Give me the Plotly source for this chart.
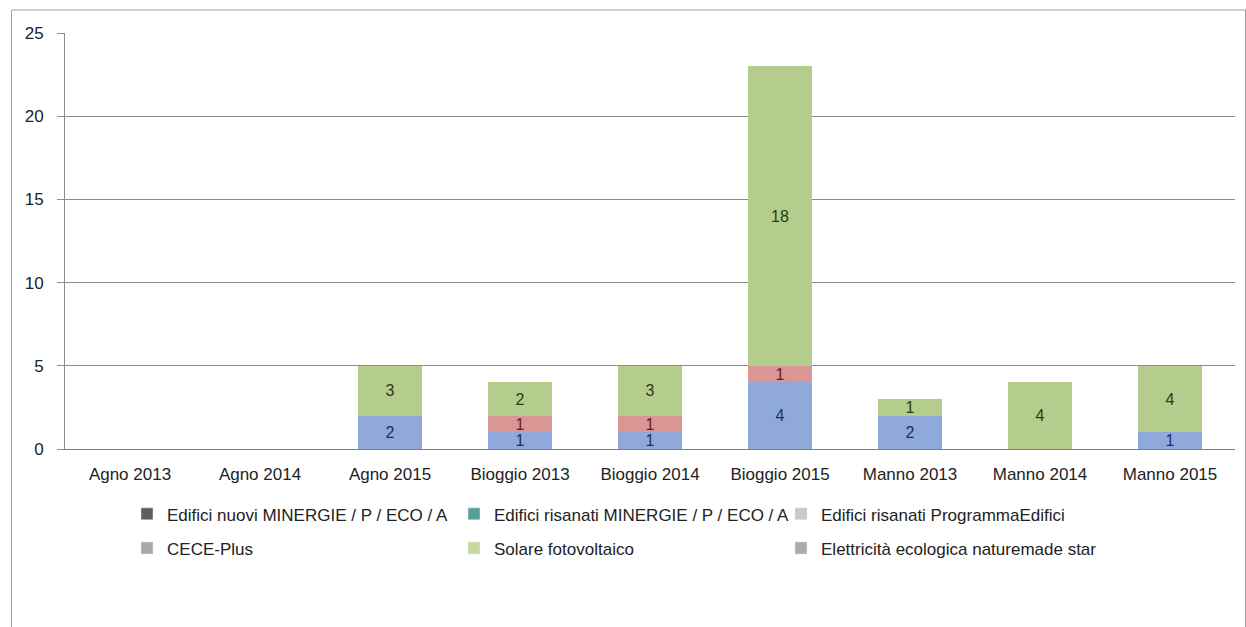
import plotly.graph_objects as go

categories = ["Agno 2013", "Agno 2014", "Agno 2015", "Bioggio 2013", "Bioggio 2014",
              "Bioggio 2015", "Manno 2013", "Manno 2014", "Manno 2015"]

series_names = [
    "Edifici nuovi MINERGIE / P / ECO / A",
    "Edifici risanati MINERGIE / P / ECO / A",
    "Edifici risanati ProgrammaEdifici",
    "CECE-Plus",
    "Solare fotovoltaico",
    "Elettricità ecologica naturemade star",
]

nuovi_minergie = [0, 0, 2, 1, 1, 4, 2, 0, 1]
risanati_minergie = [0, 0, 0, 1, 1, 1, 0, 0, 0]
risanati_programma = [0, 0, 0, 0, 0, 0, 0, 0, 0]
cece_plus = [0, 0, 0, 0, 0, 0, 0, 0, 0]
solare_fotovoltaico = [0, 0, 3, 2, 3, 18, 1, 4, 4]
elettricita_ecologica = [0, 0, 0, 0, 0, 0, 0, 0, 0]

series_values = [nuovi_minergie, risanati_minergie, risanati_programma,
                 cece_plus, solare_fotovoltaico, elettricita_ecologica]

bar_colors = ["#8FA9DA", "#DA9694", "#BFBFBF", "#A6A6A6", "#B4CD8C", "#A6A6A6"]
label_colors = ["#1F2E66", "#6B1A1A", "#333333", "#333333", "#2B3A18", "#333333"]
legend_colors = ["#5F5F5F", "#5A9E9C", "#C8C8C8", "#A8A8A8", "#C9D89E", "#ABABAB"]

FONT = "Liberation Sans Narrow, Arial Narrow, Liberation Sans, Arial, sans-serif"

fig = go.Figure()

for name, vals, bc, lc in zip(series_names, series_values, bar_colors, label_colors):
    fig.add_trace(go.Bar(
        x=categories, y=vals, name=name,
        marker=dict(color=bc, line=dict(width=0)),
        text=[str(v) if v else "" for v in vals],
        textposition="inside", insidetextanchor="middle",
        constraintext="none", textangle=0,
        textfont=dict(family=FONT, size=16, color=lc),
        showlegend=False, hoverinfo="x+y+name",
    ))

# legend entries (two rows)
for i, (name, gc) in enumerate(zip(series_names, legend_colors)):
    fig.add_trace(go.Bar(
        x=[None], y=[None], name=name, marker=dict(color=gc),
        showlegend=True, legend="legend" if i < 3 else "legend2",
    ))

legend_common = dict(
    orientation="h", xanchor="left", yanchor="middle", traceorder="normal",
    font=dict(family=FONT, size=17, color="#222222"),
    bgcolor="rgba(0,0,0,0)", entrywidthmode="pixels", entrywidth=282,
    itemclick=False, itemdoubleclick=False,
)

fig.update_layout(
    barmode="stack",
    bargap=0.51,
    width=1246, height=627,
    margin=dict(l=65, r=11, t=33, b=178),
    paper_bgcolor="white", plot_bgcolor="white",
    font=dict(family=FONT, size=17, color="#222222"),
    xaxis=dict(
        showgrid=False, ticks="", showline=True, linecolor="#7F7F7F", linewidth=1,
        tickfont=dict(family=FONT, size=17, color="#222222"),
        ticklabelstandoff=10,
    ),
    yaxis=dict(
        range=[0, 25], dtick=5, showgrid=True, gridcolor="#8C8C8C", gridwidth=1,
        showline=True, linecolor="#8C8C8C", linewidth=1,
        ticks="outside", ticklen=7, tickcolor="#8C8C8C",
        tickfont=dict(family=FONT, size=17, color="#222222"),
        ticklabelstandoff=10, zeroline=False,
    ),
    legend=dict(x=0.053, y=-0.157, **legend_common),
    legend2=dict(x=0.053, y=-0.239, **legend_common),
    shapes=[dict(type="rect", xref="paper", yref="paper",
                 x0=-0.0457, x1=1.0090, y0=-0.45, y1=1.0553,
                 line=dict(color="#A0A0A0", width=1), layer="below")],
)

fig.write_html(
    "out.html",
    config={"displayModeBar": False},
    post_script="document.body.style.margin='0';document.body.style.overflow='hidden';",
)
